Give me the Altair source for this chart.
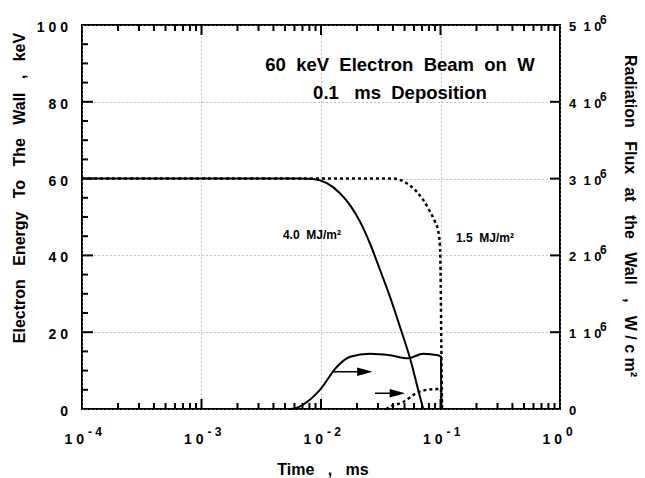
import altair as alt
import pandas as pd

FONT = "Liberation Sans"
W, H = 478, 384
NB = "\u00a0"
GRID = "#8a8a8a"

# ---------------- data ----------------
# electron energy to the wall (keV), 4.0 MJ/m2 (solid)
e_solid_t = [1e-4, 0.003, 0.0067, 0.0086, 0.0112, 0.0144, 0.0175, 0.0212, 0.0257,
             0.0312, 0.0378, 0.0458, 0.0556, 0.0673, 0.0718]
e_solid_v = [60, 60, 60, 59.9, 58.8, 56.2, 53.1, 48.8, 43.1, 36.2, 29.2, 21.4, 13.2, 3.2, 0]

# electron energy, 1.5 MJ/m2 (dotted)
e_dot_t = [1e-4, 0.01, 0.0403, 0.0521, 0.0632, 0.0718, 0.0817, 0.0899, 0.0959,
           0.099, 0.1004, 0.1017, 0.103]
e_dot_v = [60, 60, 60, 58.8, 56.6, 54.4, 51.4, 48.8, 46.2, 42.3, 32.7, 15.4, 0]

# radiation flux at the wall (W/cm2), 4.0 MJ/m2 (solid)
f_solid_t = [0.0055, 0.0061, 0.0076, 0.0098, 0.0136, 0.0175, 0.0257, 0.0378,
             0.0535, 0.0715, 0.0953, 0.101, 0.1015]
f_solid_v = [0, 0.01e6, 0.09e6, 0.25e6, 0.55e6, 0.68e6, 0.72e6, 0.70e6,
             0.66e6, 0.72e6, 0.70e6, 0.68e6, 0]

# radiation flux, 1.5 MJ/m2 (dotted)
f_dot_t = [0.035, 0.0378, 0.0485, 0.0635, 0.077, 0.0991, 0.101, 0.1015]
f_dot_v = [0, 0.03e6, 0.09e6, 0.21e6, 0.25e6, 0.26e6, 0.26e6, 0]

# axes
x_major = [1e-4, 1e-3, 1e-2, 1e-1, 1]
x_exps = ["- 4", "- 3", "- 2", "- 1", "0"]
x_minor = [m * d for d in [1e-4, 1e-3, 1e-2, 1e-1] for m in range(2, 10)]

left_values = [0, 20, 40, 60, 80, 100]
left_labels = ["0", "2" + NB + "0", "4" + NB + "0", "6" + NB + "0", "8" + NB + "0",
               "1" + NB + "0" + NB + "0"]
left_minor = [5, 10, 15, 25, 30, 35, 45, 50, 55, 65, 70, 75, 85, 90, 95]

right_values = [0, 1e6, 2e6, 3e6, 4e6, 5e6]
right_labels = ["0"] + [f"{k}{NB}{NB}1{NB}0" for k in ["1", "2", "3", "4", "5"]]
right_exps = ["", "6", "6", "6", "6", "6"]

# annotations
ann_text = ["60" + NB + " keV" + NB + " Electron" + NB + " Beam" + NB + " on" + NB + " W",
            "0.1" + NB + NB + " ms" + NB + " Deposition"]
ann_t = [0.0458, 0.0458]
ann_v = [89.6, 82.3]

curve_text = ["4.0" + NB + " MJ/m\u00b2", "1.5" + NB + " MJ/m\u00b2"]
curve_t = [0.0084, 0.2355]
curve_v = [45.3, 44.5]

arrow_t1 = [0.0126, 0.0283]
arrow_t2 = [0.0204, 0.0378]
arrow_head_t = [0.0233, 0.0436]
arrow_v = [9.7, 4.1]

# ---------------- scales ----------------
XMIN, XMAX = 1e-4, 1
xs = alt.Scale(type="log", domain=[XMIN, XMAX], nice=False)
yl = alt.Scale(domain=[0, 100], nice=False, zero=False)
yr = alt.Scale(domain=[0, 5e6], nice=False, zero=False)

PX_PER_DECADE = W / 4.0
PX_PER_KEV = H / 100.0


def X(field="t", axis=None):
    return alt.X(f"{field}:Q", scale=xs, axis=axis)


def YL(field="v", axis=None):
    return alt.Y(f"{field}:Q", scale=yl, axis=axis)


def YR(field="v", axis=None):
    return alt.Y(f"{field}:Q", scale=yr, axis=axis)


layers = []

# ---- curves ----
layers.append(
    alt.Chart(pd.DataFrame({"t": e_solid_t, "v": e_solid_v}))
    .mark_line(color="black", strokeWidth=2, interpolate="monotone")
    .encode(x=X(), y=YL())
)
layers.append(
    alt.Chart(pd.DataFrame({"t": e_dot_t, "v": e_dot_v}))
    .mark_line(color="black", strokeWidth=2.5, strokeDash=[3, 3], interpolate="monotone")
    .encode(x=X(), y=YL())
)
layers.append(
    alt.Chart(pd.DataFrame({"t": f_solid_t, "v": f_solid_v}))
    .mark_line(color="black", strokeWidth=2, interpolate="monotone")
    .encode(x=X(), y=YR())
)
layers.append(
    alt.Chart(pd.DataFrame({"t": f_dot_t, "v": f_dot_v}))
    .mark_line(color="black", strokeWidth=2.5, strokeDash=[3, 3], interpolate="monotone")
    .encode(x=X(), y=YR())
)

# ---- inward ticks as ranged rules through the scales ----
TICK = dict(color="black", strokeWidth=2, opacity=1)


def xticks(values, ln_px, top):
    d = ln_px / PX_PER_KEV
    y0, y1 = (100, 100 - d) if top else (0, d)
    df = pd.DataFrame({"t": values, "y0": [y0] * len(values), "y1": [y1] * len(values)})
    return alt.Chart(df).mark_rule(**TICK).encode(x=X(), y=YL("y0"), y2="y1:Q")


def lticks(values, ln_px):
    x1 = XMIN * 10 ** (ln_px / PX_PER_DECADE)
    df = pd.DataFrame({"v": values, "x0": [XMIN] * len(values), "x1": [x1] * len(values)})
    return alt.Chart(df).mark_rule(**TICK).encode(y=YL(), x=X("x0"), x2="x1:Q")


def rticks(values, ln_px):
    x1 = XMAX * 10 ** (-ln_px / PX_PER_DECADE)
    df = pd.DataFrame({"v": values, "x0": [XMAX] * len(values), "x1": [x1] * len(values)})
    return alt.Chart(df).mark_rule(**TICK).encode(y=YR(), x=X("x0"), x2="x1:Q")


layers += [xticks(x_minor, 6, False), xticks(x_major[1:-1], 10, False),
           xticks(x_minor, 6, True), xticks(x_major[1:-1], 10, True),
           lticks(left_minor, 6), lticks(left_values[1:-1], 11),
           rticks(right_values[1:-1], 10)]

# ---- tick labels ----
txt = dict(font=FONT, fontWeight="bold", color="black")
xl_df = pd.DataFrame({"t": x_major, "e": x_exps})
layers.append(alt.Chart(xl_df).mark_text(align="right", baseline="middle", fontSize=14, dx=2, **txt)
              .encode(x=X(), y=alt.value(H + 31), text=alt.value("1" + NB + "0")))
layers.append(alt.Chart(xl_df).mark_text(align="left", baseline="middle", fontSize=12, dx=6, **txt)
              .encode(x=X(), y=alt.value(H + 23), text="e:N"))

layers.append(alt.Chart(pd.DataFrame({"v": left_values, "l": left_labels}))
              .mark_text(align="right", baseline="middle", fontSize=14, dy=3, **txt)
              .encode(y=YL(), x=alt.value(-14), text="l:N"))

rl_df = pd.DataFrame({"v": right_values, "l": right_labels, "e": right_exps})
layers.append(alt.Chart(rl_df).mark_text(align="left", baseline="middle", fontSize=13, dy=2, **txt)
              .encode(y=YR(), x=alt.value(W + 9), text="l:N"))
layers.append(alt.Chart(rl_df).mark_text(align="left", baseline="middle", fontSize=12, dy=-5, **txt)
              .encode(y=YR(), x=alt.value(W + 40), text="e:N"))

# ---- axis titles ----
G3 = " " + NB + NB
left_title = G3.join(["Electron", "Energy", "To", "The", "Wall", ",", "keV"])
right_title = G3.join(["Radiation", "Flux", "at", "the", "Wall", ",", "W / c m\u00b2"])
bottom_title = G3.join(["Time", ",", "ms"])
layers.append(alt.Chart(pd.DataFrame({"s": [left_title]}))
              .mark_text(angle=270, align="center", baseline="middle", fontSize=16, **txt)
              .encode(x=alt.value(-62), y=alt.value(163), text="s:N"))
layers.append(alt.Chart(pd.DataFrame({"s": [right_title]}))
              .mark_text(angle=90, align="center", baseline="middle", fontSize=16, **txt)
              .encode(x=alt.value(W + 70), y=alt.value(191), text="s:N"))
layers.append(alt.Chart(pd.DataFrame({"s": [bottom_title]}))
              .mark_text(align="center", baseline="alphabetic", fontSize=16, **txt)
              .encode(x=alt.value(241), y=alt.value(H + 66), text="s:N"))

# ---- annotations (this layer carries the dotted gridlines) ----
grid_x = alt.Axis(values=x_major, grid=True, gridDash=[1, 3], gridColor=GRID, gridWidth=1,
                  labels=False, ticks=False, domain=False, title=None, zindex=0)
grid_y = alt.Axis(values=left_values, grid=True, gridDash=[1, 3], gridColor=GRID, gridWidth=1,
                  labels=False, ticks=False, domain=False, title=None, zindex=0)
layers.append(alt.Chart(pd.DataFrame({"t": ann_t, "v": ann_v, "s": ann_text}))
              .mark_text(align="center", baseline="middle", fontSize=18.5, **txt)
              .encode(x=X(axis=grid_x), y=YL(axis=grid_y), text="s:N"))
layers.append(alt.Chart(pd.DataFrame({"t": curve_t, "v": curve_v, "s": curve_text}))
              .mark_text(align="center", baseline="middle", fontSize=12, **txt)
              .encode(x=X(), y=YL(), text="s:N"))

# ---- arrows ----
arr_df = pd.DataFrame({"t": arrow_t1, "t2": arrow_t2, "h": arrow_head_t, "v": arrow_v})
layers.append(alt.Chart(arr_df).mark_rule(color="black", strokeWidth=1.5)
              .encode(x=X(), x2="t2:Q", y=YL()))
layers.append(alt.Chart(arr_df)
              .mark_point(shape="M-1,-0.55L1,0L-1,0.55Z", filled=True, size=240,
                          color="black", opacity=1)
              .encode(x=X("h"), y=YL()))

chart = (
    alt.layer(*layers)
    .resolve_scale(x="independent", y="independent")
    .properties(width=W, height=H, autosize=alt.AutoSizeParams(type="none"),
                padding={"left": 82, "top": 25, "right": 85, "bottom": 69},
                background="white")
    .configure_view(stroke="black", strokeWidth=2)
)

chart.save("out.html", embed_options={"renderer": "svg", "actions": False})
